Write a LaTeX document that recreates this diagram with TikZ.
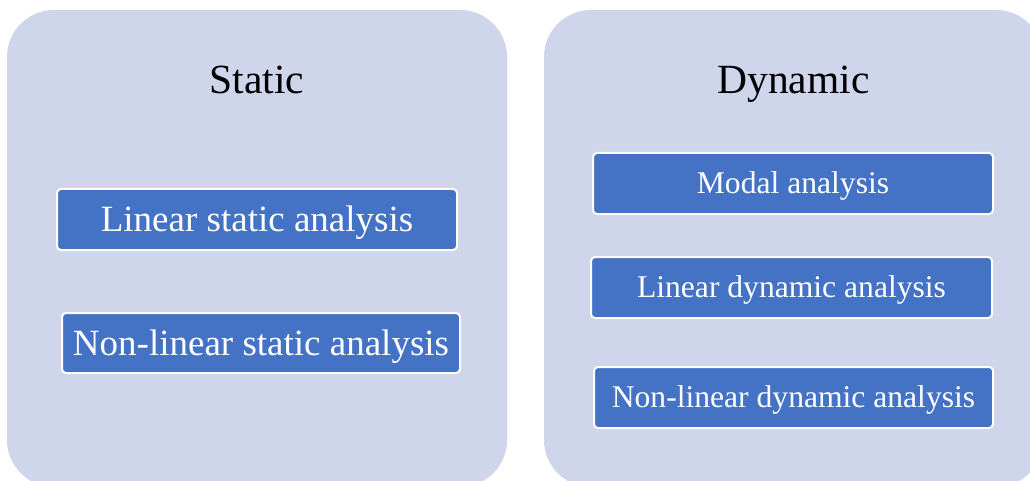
\documentclass[tikz,border=0pt]{standalone}
\usepackage{fontspec}
\setmainfont{Liberation Serif}
\definecolor{panelfill}{HTML}{CFD5EA}
\definecolor{boxfill}{HTML}{4472C4}
\tikzset{
  panel/.style={fill=panelfill, draw=none, rounded corners=47pt},
  titletext/.style={inner sep=0pt, text height=27.5pt, text depth=0pt, font=\fontsize{41.5}{44}\selectfont, text=black},
  bigbox/.style={fill=boxfill, draw=white, line width=2pt, rounded corners=4pt, inner sep=0pt,
    text=white, text height=24.5pt, text depth=0pt, font=\fontsize{37}{40}\selectfont},
  smallbox/.style={fill=boxfill, draw=white, line width=2pt, rounded corners=4pt, inner sep=0pt,
    text=white, text height=20.9pt, text depth=0pt, font=\fontsize{31.6}{34}\selectfont}
}
\begin{document}
\begin{tikzpicture}[x=1pt,y=-1pt]
\useasboundingbox (0,0) rectangle (1030,481);
\clip (0,0) rectangle (1030,481);
\fill[white] (0,0) rectangle (1030,481);
% panels
\path[panel] (7,10) rectangle (507,487);
\path[panel] (544,10) rectangle (1043,487);
% titles
\node[titletext] (static) at (257,79.3) {Static};
\node[titletext] (dynamic) at (793.5,79.3) {Dynamic};
% left boxes
\node[bigbox, minimum width=400pt, minimum height=61pt] (lsa) at (257,219.5) {Linear static analysis};
\node[bigbox, minimum width=398pt, minimum height=60pt] (nlsa) at (261,343) {Non-linear static analysis};
% right boxes
\node[smallbox, minimum width=400pt, minimum height=61pt] (modal) at (793,183.5) {Modal analysis};
\node[smallbox, minimum width=401pt, minimum height=61pt] (lda) at (791.5,287.5) {Linear dynamic analysis};
\node[smallbox, minimum width=399pt, minimum height=61pt] (nlda) at (793.5,397.5) {Non-linear dynamic analysis};
\end{tikzpicture}
\end{document}
